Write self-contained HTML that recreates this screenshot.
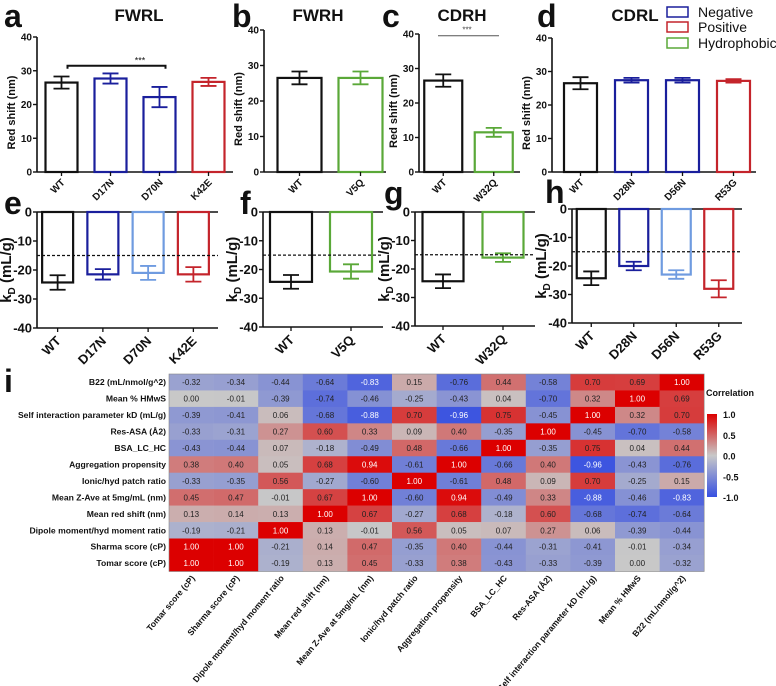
<!DOCTYPE html>
<html><head><meta charset="utf-8"><style>
body{margin:0;background:#fff;}
svg{display:block;font-family:"Liberation Sans",sans-serif;}
</style></head><body>
<svg id="fig" width="776" height="686" viewBox="0 0 776 686" xmlns="http://www.w3.org/2000/svg"></svg>
<script>
// ---- data ----
const catsA=["WT","D17N","D70N","K42E"], valsA=[26.5,27.7,22.2,26.7], errA=[1.8,1.5,3.0,1.2];
const catsB=["WT","V5Q"], valsB=[26.5,26.5], errB=[1.8,1.8];
const catsC=["WT","W32Q"], valsC=[26.5,11.5], errC=[1.8,1.3];
const catsD=["WT","D28N","D56N","R53G"], valsD=[26.5,27.4,27.4,27.2], errD=[1.8,0.7,0.7,0.5];
const catsE=["WT","D17N","D70N","K42E"], valsE=[-24.3,-21.5,-21.0,-21.5], errE=[2.5,1.8,2.4,2.5];
const catsF=["WT","V5Q"], valsF=[-24.3,-20.7], errF=[2.4,2.5];
const catsG=["WT","W32Q"], valsG=[-24.3,-16.0], errG=[2.4,1.5];
const catsH=["WT","D28N","D56N","R53G"], valsH=[-24.3,-20.0,-23.0,-28.0], errH=[2.4,1.5,1.5,3.0];
const redTicks=[0,10,20,30,40], kdTicks=[0,-10,-20,-30,-40];
const kdThreshold=-15;
const hmRows=["B22 (mL/nmol/g^2)","Mean % HMwS","Self interaction parameter kD (mL/g)","Res-ASA (Å2)","BSA_LC_HC","Aggregation propensity","Ionic/hyd patch ratio","Mean Z-Ave at 5mg/mL (nm)","Mean red shift (nm)","Dipole moment/hyd moment ratio","Sharma score (cP)","Tomar score (cP)"];
const hmCols=["Tomar score (cP)","Sharma score (cP)","Dipole moment/hyd moment ratio","Mean red shift (nm)","Mean Z-Ave at 5mg/mL (nm)","Ionic/hyd patch ratio","Aggregation propensity","BSA_LC_HC","Res-ASA (Å2)","Self interaction parameter kD (mL/g)","Mean % HMwS","B22 (mL/nmol/g^2)"];
const hmVals=[
[-0.32,-0.34,-0.44,-0.64,-0.83,0.15,-0.76,0.44,-0.58,0.70,0.69,1.00],
[0.00,-0.01,-0.39,-0.74,-0.46,-0.25,-0.43,0.04,-0.70,0.32,1.00,0.69],
[-0.39,-0.41,0.06,-0.68,-0.88,0.70,-0.96,0.75,-0.45,1.00,0.32,0.70],
[-0.33,-0.31,0.27,0.60,0.33,0.09,0.40,-0.35,1.00,-0.45,-0.70,-0.58],
[-0.43,-0.44,0.07,-0.18,-0.49,0.48,-0.66,1.00,-0.35,0.75,0.04,0.44],
[0.38,0.40,0.05,0.68,0.94,-0.61,1.00,-0.66,0.40,-0.96,-0.43,-0.76],
[-0.33,-0.35,0.56,-0.27,-0.60,1.00,-0.61,0.48,0.09,0.70,-0.25,0.15],
[0.45,0.47,-0.01,0.67,1.00,-0.60,0.94,-0.49,0.33,-0.88,-0.46,-0.83],
[0.13,0.14,0.13,1.00,0.67,-0.27,0.68,-0.18,0.60,-0.68,-0.74,-0.64],
[-0.19,-0.21,1.00,0.13,-0.01,0.56,0.05,0.07,0.27,0.06,-0.39,-0.44],
[1.00,1.00,-0.21,0.14,0.47,-0.35,0.40,-0.44,-0.31,-0.41,-0.01,-0.34],
[1.00,1.00,-0.19,0.13,0.45,-0.33,0.38,-0.43,-0.33,-0.39,0.00,-0.32]];
const cbTicks=[1.0,0.5,0.0,-0.5,-1.0];

const K="#111",BL="#1a1f9c",LB="#6f9be0",RD="#c4242b",GR="#5aa838";
const svg=document.getElementById('fig');
const NS="http://www.w3.org/2000/svg";
function el(tag,attrs,parent){const e=document.createElementNS(NS,tag);for(const k in attrs)e.setAttribute(k,attrs[k]);(parent||svg).appendChild(e);return e;}
function txt(s,attrs,parent){const e=el('text',attrs,parent);e.textContent=s;return e;}

function panel(o){
  const g=el('g',{});
  
  
  const y=v=>o.y0+(v-o.vmin)/(o.vmax-o.vmin)*(o.y1-o.y0);
  const ya=el('line',{x1:o.ax,x2:o.ax,y1:y(o.vmin),y2:y(o.vmax),stroke:K,'stroke-width':1.6},g);
  
  const zy=y(0);
  const bottom=o.neg?y(o.vmax):zy;
  const xa=el('line',{x1:o.ax,x2:o.axr,y1:zy,y2:zy,stroke:K,'stroke-width':1.6},g);
  
  if(o.neg){
    const xb=el('line',{x1:o.ax,x2:o.axr,y1:bottom,y2:bottom,stroke:K,'stroke-width':1.6},g);
    
  }
  o.ticks.forEach(t=>{
    el('line',{x1:o.ax-4,x2:o.ax,y1:y(t),y2:y(t),stroke:K,'stroke-width':1.4},g);
    const tl=txt(String(t),{x:o.ax-5,y:y(t)+o.tf*0.35,'text-anchor':'end','font-size':o.tf,'font-weight':'bold',fill:K},g);
    
  });
  const n=o.cats.length, step=(o.axr-o.ax)/n;
  o.cats.forEach((c,i)=>{
    const cx=o.ax+step*(i+0.5)+(o.shift||0), w=o.bw, v=o.vals[i], e=o.errs[i], col=o.cols[i];
    const top=Math.min(y(v),zy), h=Math.abs(y(v)-zy);
    const r=el('rect',{x:cx-w/2,y:top,width:w,height:h,fill:'#fff',stroke:col,'stroke-width':2.2},g);
    
    const ye1=y(v-e),ye2=y(v+e);
    const eb=el('path',{d:`M${cx},${ye1}V${ye2}M${cx-8},${ye1}H${cx+8}M${cx-8},${ye2}H${cx+8}`,stroke:col,'stroke-width':1.8,fill:'none'},g);
    
    el('line',{x1:cx,x2:cx,y1:bottom,y2:bottom+4,stroke:K,'stroke-width':1.3},g);
    const ly=bottom+o.lf*0.9+2;
    const lt=txt(c,{x:cx+4,y:ly,'text-anchor':'end','font-size':o.lf,'font-weight':'bold',fill:K,transform:`rotate(-45 ${cx+4} ${ly})`},g);
    
  });
  if(o.neg){
    const dl=el('line',{x1:o.ax,x2:o.axr,y1:y(kdThreshold),y2:y(kdThreshold),stroke:K,'stroke-width':1.2,'stroke-dasharray':'3,2'},g);
    
    const yt=el('text',{x:0,y:0,'font-size':15,'font-weight':'bold',fill:K,'text-anchor':'middle',transform:`translate(${o.ax-26},${(bottom+zy)/2}) rotate(-90)`},g);
    yt.innerHTML='k<tspan font-size="10" dy="4">D</tspan><tspan dy="-4"> (mL/g)</tspan>';
    
  } else {
    const yt=txt('Red shift (nm)',{x:0,y:0,'font-size':11,'font-weight':'bold',fill:K,'text-anchor':'middle',transform:`translate(${o.ax-22},${(y(o.vmax)+zy)/2+8}) rotate(-90)`},g);
    
  }
  return {g,y};
}
const cA=[K,BL,BL,RD], cD=[K,BL,BL,RD], cE=[K,BL,LB,RD], cH=[K,BL,LB,RD];
const a=panel({name:'panel-a-fwrl',cats:catsA,vals:valsA,errs:errA,cols:cA,ax:37,axr:233,y0:172,y1:37,vmin:0,vmax:40,ticks:redTicks,bw:32,tf:10,lf:10});
panel({name:'panel-b-fwrh',cats:catsB,vals:valsB,errs:errB,cols:[K,GR],ax:264,axr:386,y0:172,y1:30,vmin:0,vmax:40,ticks:redTicks,bw:44,tf:10,lf:10,shift:5});
const c=panel({name:'panel-c-cdrh',cats:catsC,vals:valsC,errs:errC,cols:[K,GR],ax:419,axr:520,y0:172,y1:34,vmin:0,vmax:40,ticks:redTicks,bw:38,tf:10,lf:10,shift:-1});
panel({name:'panel-d-cdrl',cats:catsD,vals:valsD,errs:errD,cols:cD,ax:552,axr:756,y0:172,y1:38,vmin:0,vmax:40,ticks:redTicks,bw:33,tf:10,lf:10,shift:3});
panel({name:'panel-e-fwrl-kd',cats:catsE,vals:valsE,errs:errE,cols:cE,ax:37,axr:218,y0:212,y1:328,vmin:0,vmax:-40,ticks:kdTicks,bw:31,tf:13,lf:13,neg:true,shift:-2});
panel({name:'panel-f-fwrh-kd',cats:catsF,vals:valsF,errs:errF,cols:[K,GR],ax:263,axr:383,y0:212,y1:327,vmin:0,vmax:-40,ticks:kdTicks,bw:42,tf:13,lf:13,neg:true,shift:-2});
panel({name:'panel-g-cdrh-kd',cats:catsG,vals:valsG,errs:errG,cols:[K,GR],ax:415,axr:535,y0:212,y1:326,vmin:0,vmax:-40,ticks:kdTicks,bw:41,tf:13,lf:13,neg:true,shift:-2});
panel({name:'panel-h-cdrl-kd',cats:catsH,vals:valsH,errs:errH,cols:cH,ax:572,axr:742,y0:209,y1:323,vmin:0,vmax:-40,ticks:kdTicks,bw:29,tf:13,lf:13,neg:true,shift:-2});
// significance brackets
const s1=el('path',{d:`M${37+24.5+6},${a.y(31.5)+3}V${a.y(31.5)}H${37+24.5*5+6}V${a.y(31.5)+3}`,stroke:K,'stroke-width':2,fill:'none'});

const st1=txt('***',{x:140,y:a.y(31.5)-2,'text-anchor':'middle','font-size':9,fill:K});

const s2=el('line',{x1:438,x2:499,y1:c.y(39.5),y2:c.y(39.5),stroke:'#555','stroke-width':1});

const st2=txt('***',{x:467,y:c.y(39.5)-3,'text-anchor':'middle','font-size':8,fill:'#444'});

// panel letters + titles
[["a",4,27],["b",232,27],["c",382,27],["d",537,27],["e",4,214],["f",240,214],["g",384,204],["h",545,203],["i",4,392]].forEach(([l,x,y])=>{
  const t=txt(l,{x,y,'font-size':32,'font-weight':'bold',fill:K});
  
});
[["FWRL",139],["FWRH",318],["CDRH",462],["CDRL",635]].forEach(([s,x])=>{
  const t=txt(s,{x,y:21,'text-anchor':'middle','font-size':17,'font-weight':'bold',fill:K});
  
});
// legend
[["Negative",BL,7],["Positive",RD,22],["Hydrophobic",GR,38]].forEach(([s,col,y])=>{
  const r=el('rect',{x:667,y:y,width:21,height:10,fill:'#fff',stroke:col,'stroke-width':1.5});
  
  const t=txt(s,{x:698,y:y+10,'font-size':14,fill:K});
  
});
// heatmap
function cmap(v){
  const neg=[55,80,225],mid=[200,200,200],pos=[220,0,0];
  const t=Math.abs(v),e=v<0?neg:pos;
  return `rgb(${mid.map((m,i)=>Math.round(m+(e[i]-m)*t)).join(',')})`;
}
const hx0=169,hy0=374,cw=44.6,rh=16.45;
const hm=el('g',{});
hmRows.forEach((rn,r)=>{
  const rl=txt(rn,{x:hx0-3,y:hy0+rh*(r+0.5)+3,'text-anchor':'end','font-size':8.6,'font-weight':'bold',fill:K},hm);
  
  hmCols.forEach((cn,ci)=>{
    const v=hmVals[r][ci];
    const cell=el('rect',{x:hx0+cw*ci,y:hy0+rh*r,width:cw+0.3,height:rh+0.3,fill:cmap(v)},hm);
    
    const vt=txt(v.toFixed(2),{x:hx0+cw*(ci+0.5),y:hy0+rh*(r+0.5)+3,'text-anchor':'middle','font-size':8,fill:Math.abs(v)>0.8?'#fff':'#222'},hm);
    
  });
});
el('rect',{x:hx0,y:hy0,width:cw*12,height:rh*12,fill:'none',stroke:'#888','stroke-width':0.6},hm);
hmCols.forEach((cn,ci)=>{
  const cx=hx0+cw*(ci+0.5)+4, cy=hy0+rh*12+7;
  const t=txt(cn,{x:cx,y:cy,'text-anchor':'end','font-size':8.6,'font-weight':'bold',fill:K,transform:`rotate(-50 ${cx} ${cy})`},hm);
  
});
// colorbar
const defs=el('defs',{});const lg=el('linearGradient',{id:'cb',x1:0,y1:0,x2:0,y2:1},defs);
[[0,1],[0.5,0],[1,-1]].forEach(([o,v])=>el('stop',{offset:o,'stop-color':cmap(v)},lg));
const cb=el('rect',{x:707,y:414,width:10,height:83,fill:'url(#cb)'});

cbTicks.forEach(t=>{
  const ty=414+(1-t)/2*83;
  const tl=txt(t.toFixed(1),{x:723,y:ty+4,'font-size':9,'font-weight':'bold',fill:K});
  
});
const ct=txt('Correlation',{x:706,y:396,'font-size':9,'font-weight':'bold',fill:K});

</script>
</body></html>
